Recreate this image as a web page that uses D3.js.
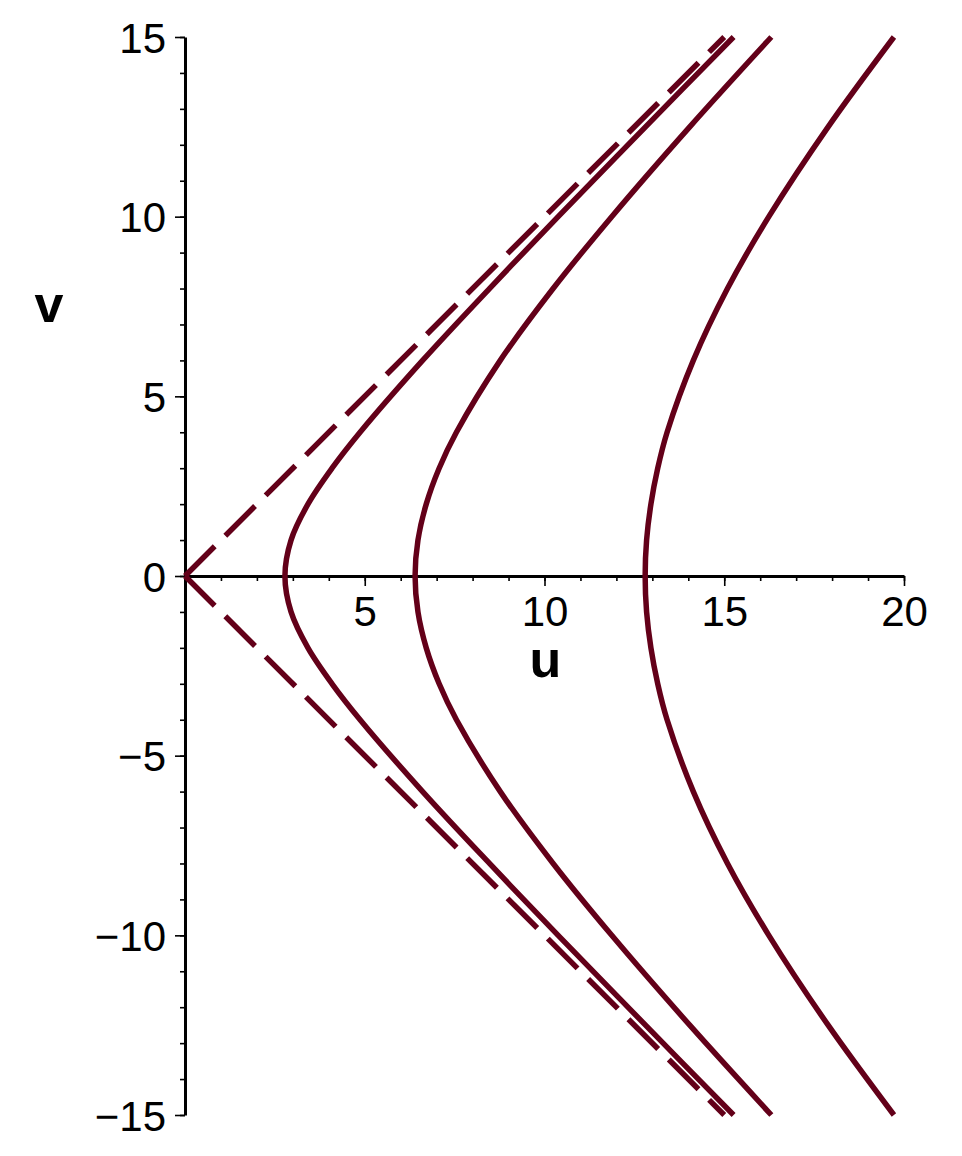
<!DOCTYPE html>
<html>
<head>
<meta charset="utf-8">
<script src="https://cdn.jsdelivr.net/npm/d3@7"></script>
<style>
    body { margin: 0; background: #fff; }
    svg { font-family: "Liberation Sans", Arial, Helvetica, sans-serif; }
</style>
</head>
<body>
<svg id="chart"></svg>
<script>
// values: v positions and u of each hyperbola branch
var vVals  = [-15, -12.5, -10, -8, -6, -4, -3, -2, -1, 0, 1, 2, 3, 4, 6, 8, 10, 12.5, 15];
var curve1 = [15.26, 12.81, 10.38, 8.47, 6.61, 4.87, 4.09, 3.42, 2.95, 2.78, 2.95, 3.42, 4.09, 4.87, 6.61, 8.47, 10.38, 12.81, 15.26];
var curve2 = [16.31, 14.04, 11.87, 10.24, 8.77, 7.55, 7.07, 6.71, 6.48, 6.40, 6.48, 6.71, 7.07, 7.55, 8.77, 10.24, 11.87, 14.04, 16.31];
var curve3 = [19.72, 17.89, 16.24, 15.09, 14.14, 13.41, 13.15, 12.96, 12.84, 12.80, 12.84, 12.96, 13.15, 13.41, 14.14, 15.09, 16.24, 17.89, 19.72];

// dashed asymptotes
var asymU      = [0, 15];
var asymUpperV = [0, 15];
var asymLowerV = [0, -15];

var xMajor = [5, 10, 15, 20];
var yMajor = [-15, -10, -5, 0, 5, 10, 15];
var xMinor = d3.range(1, 21);
var yMinor = d3.range(-15, 16);

var W = 962, H = 1156;
var color = "#630019";

var svg = d3.select("#chart")
    .attr("width", W)
    .attr("height", H);

var x = d3.scaleLinear().domain([0, 20]).range([185, 904]);
var y = d3.scaleLinear().domain([-15, 15]).range([1115, 37]);

function fmt(d) {
    return d < 0 ? "\u2212" + Math.abs(d) : String(d);
}

// minor ticks first
svg.append("g")
    .attr("transform", "translate(0," + y(0) + ")")
    .call(d3.axisBottom(x).tickValues(xMinor).tickSize(5).tickFormat("").tickSizeOuter(0))
    .call(function (g) { g.select(".domain").remove(); });
svg.append("g")
    .attr("transform", "translate(" + x(0) + ",0)")
    .call(d3.axisLeft(y).tickValues(yMinor).tickSize(5).tickFormat("").tickSizeOuter(0))
    .call(function (g) { g.select(".domain").remove(); });

// major ticks + labels
var gX = svg.append("g")
    .attr("transform", "translate(0," + y(0) + ")")
    .call(d3.axisBottom(x).tickValues(xMajor).tickSize(10).tickPadding(10).tickFormat(fmt).tickSizeOuter(0));
var gY = svg.append("g")
    .attr("transform", "translate(" + x(0) + ",0)")
    .call(d3.axisLeft(y).tickValues(yMajor).tickSize(10).tickPadding(9).tickFormat(fmt).tickSizeOuter(0));

svg.selectAll(".tick line").attr("stroke", "#000").attr("stroke-width", 1.6);
svg.selectAll(".domain").attr("stroke", "#000").attr("stroke-width", 3);
svg.selectAll(".tick text")
    .attr("fill", "#000")
    .style("font-family", "'Liberation Sans', Arial, sans-serif")
    .style("font-size", "42px");
gY.selectAll(".tick text").attr("dy", "0.36em");

// axis titles
svg.append("text")
    .attr("x", x(10) + 1)
    .attr("y", 677)
    .attr("text-anchor", "middle")
    .style("font-weight", "bold")
    .style("font-size", "52px")
    .text("u");
svg.append("text")
    .attr("x", 49)
    .attr("y", 322)
    .attr("text-anchor", "middle")
    .style("font-weight", "bold")
    .style("font-size", "52px")
    .text("v");

var line = d3.line()
    .x(function (d) { return x(d[0]); })
    .y(function (d) { return y(d[1]); })
    .curve(d3.curveCatmullRom);

// asymptotes
[asymUpperV, asymLowerV].forEach(function (vs) {
    svg.append("path")
        .attr("d", line(asymU.map(function (u, i) { return [u, vs[i]]; })))
        .attr("fill", "none")
        .attr("stroke", color)
        .attr("stroke-width", 5.5)
        .attr("stroke-dasharray", "42,15");
});

// hyperbolas
[curve1, curve2, curve3].forEach(function (us) {
    svg.append("path")
        .attr("d", line(us.map(function (u, i) { return [u, vVals[i]]; })))
        .attr("fill", "none")
        .attr("stroke", color)
        .attr("stroke-width", 5.5);
});
</script>
</body>
</html>
